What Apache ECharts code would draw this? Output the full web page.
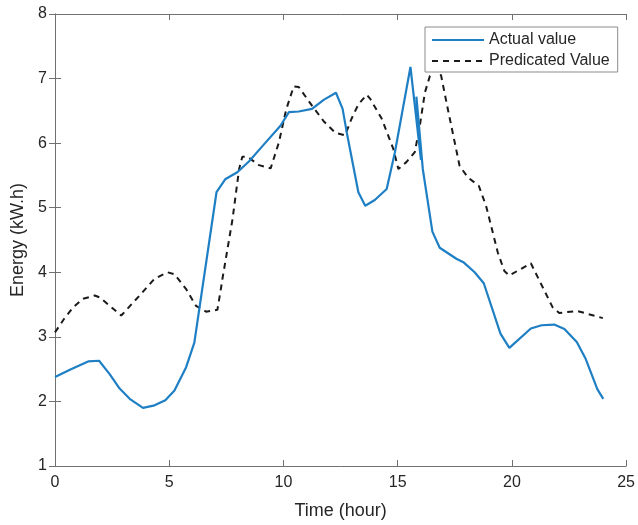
<!DOCTYPE html>
<html>
<head>
<meta charset="utf-8">
<title>Energy: actual vs predicted</title>
<script src="https://cdn.jsdelivr.net/npm/echarts@6/dist/echarts.min.js"></script>
<style>
  html, body { margin: 0; padding: 0; background: #ffffff; }
  #chart { width: 638px; height: 525px; }
</style>
</head>
<body>
<div id="chart"></div>
<script>
// Measured energy over the day (hour, kW.h)
const actualHour = [0, 0.7, 1.45, 1.93, 2.4, 2.83, 3.27, 3.85, 4.36, 4.83, 5.23, 5.74, 6.10, 7.07, 7.45, 7.98, 8.5, 9.07, 9.87, 10.24, 10.67, 11.25, 11.76, 12.30, 12.59, 12.77, 13.28, 13.58, 14.0, 14.52, 14.88, 15.56, 16.02, 15.82, 16.1, 16.52, 16.84, 17.57, 17.9, 18.37, 18.77, 19.50, 19.89, 20.83, 21.3, 21.85, 22.3, 22.84, 23.23, 23.74, 24.0];
const actualEnergy = [2.38, 2.5, 2.62, 2.63, 2.42, 2.20, 2.04, 1.90, 1.94, 2.02, 2.17, 2.53, 2.91, 5.24, 5.44, 5.55, 5.72, 5.95, 6.27, 6.48, 6.49, 6.53, 6.67, 6.78, 6.53, 6.17, 5.24, 5.03, 5.12, 5.29, 5.86, 7.18, 5.74, 6.72, 5.6, 4.63, 4.38, 4.21, 4.15, 4.0, 3.83, 3.05, 2.83, 3.13, 3.18, 3.19, 3.12, 2.92, 2.66, 2.19, 2.04];

// Model prediction over the same day
const predHour = [0, 0.4, 0.8, 1.23, 1.74, 1.96, 2.4, 2.90, 3.70, 4.36, 4.93, 5.23, 5.74, 6.17, 6.61, 7.11, 7.26, 7.33, 7.77, 8.06, 8.20, 8.42, 8.93, 9.44, 9.80, 10.12, 10.45, 10.67, 11.25, 11.76, 12.27, 12.70, 12.97, 13.28, 13.65, 13.79, 14.30, 14.81, 15.03, 15.39, 15.75, 15.97, 16.19, 16.41, 16.65, 16.9, 17.2, 17.71, 18.07, 18.55, 18.87, 19.38, 19.67, 19.89, 20.83, 21.78, 22.07, 22.87, 23.98];
const predEnergy = [3.07, 3.28, 3.46, 3.59, 3.64, 3.61, 3.48, 3.33, 3.64, 3.90, 4.00, 3.97, 3.74, 3.48, 3.39, 3.42, 3.74, 3.90, 4.82, 5.60, 5.79, 5.79, 5.66, 5.61, 6.01, 6.52, 6.88, 6.87, 6.58, 6.34, 6.16, 6.12, 6.37, 6.60, 6.75, 6.69, 6.38, 5.91, 5.60, 5.71, 5.86, 6.27, 6.78, 7.04, 7.15, 7.05, 6.52, 5.65, 5.47, 5.34, 5.03, 4.31, 4.02, 3.95, 4.14, 3.46, 3.37, 3.40, 3.29];

const seriesNames = ['Actual value', 'Predicated Value'];
const xTitle = 'Time (hour)';
const yTitle = 'Energy (kW.h)';

const pairs = (xs, ys) => xs.map((x, i) => [x, ys[i]]);

const axisColor = '#707070';
const labelColor = '#262626';
const fontFamily = 'Liberation Sans, Arial, sans-serif';

// Box-style frame: every side gets an axis line with inward ticks
const frameAxis = (extra) => Object.assign({
  type: 'value',
  axisLine: { show: true, lineStyle: { color: axisColor, width: 1 } },
  axisTick: { show: true, inside: true, length: 6, lineStyle: { color: axisColor } },
  splitLine: { show: false },
}, extra);

const chart = echarts.init(document.getElementById('chart'), null, { renderer: 'canvas' });

chart.setOption({
  backgroundColor: '#ffffff',
  animation: false,
  grid: { left: 55, right: 9, top: 14, bottom: 58, containLabel: false },
  legend: {
    orient: 'vertical',
    left: 425,
    top: 27,
    padding: [5, 8, 3, 6],
    itemGap: 5,
    itemWidth: 52,
    itemHeight: 14,
    backgroundColor: '#ffffff',
    borderColor: '#8a8a8a',
    borderWidth: 1,
    borderRadius: 0,
    itemStyle: { opacity: 0 },
    textStyle: { fontSize: 16, color: labelColor, fontFamily: fontFamily },
    data: seriesNames,
  },
  xAxis: [
    frameAxis({
      min: 0, max: 25, interval: 5,
      position: 'bottom',
      name: xTitle,
      nameLocation: 'middle',
      nameGap: 36,
      nameTextStyle: { fontSize: 18, color: labelColor, fontFamily: fontFamily },
      axisLabel: { show: true, fontSize: 16, color: labelColor, margin: 9, fontFamily: fontFamily },
    }),
    frameAxis({
      min: 0, max: 25, interval: 5,
      position: 'top',
      axisLabel: { show: false },
    }),
  ],
  yAxis: [
    frameAxis({
      min: 1, max: 8, interval: 1,
      position: 'left',
      name: yTitle,
      nameLocation: 'middle',
      nameGap: 24,
      nameTextStyle: { fontSize: 18, color: labelColor, fontFamily: fontFamily },
      axisLabel: { show: true, fontSize: 16, color: labelColor, margin: 8, fontFamily: fontFamily },
    }),
    frameAxis({
      min: 1, max: 8, interval: 1,
      position: 'right',
      axisLabel: { show: false },
    }),
  ],
  series: [
    {
      name: seriesNames[0],
      type: 'line',
      xAxisIndex: 0,
      yAxisIndex: 0,
      data: pairs(actualHour, actualEnergy),
      symbol: 'none',
      showSymbol: false,
      smooth: false,
      lineStyle: { color: '#1f7fc4', width: 2.2 },
      itemStyle: { color: '#1f7fc4' },
      z: 3,
    },
    {
      name: seriesNames[1],
      type: 'line',
      xAxisIndex: 0,
      yAxisIndex: 0,
      data: pairs(predHour, predEnergy),
      symbol: 'none',
      showSymbol: false,
      smooth: false,
      lineStyle: { color: '#1a1a1a', width: 2, type: [6, 5] },
      itemStyle: { color: '#1a1a1a' },
      z: 2,
    },
  ],
});
</script>
</body>
</html>
